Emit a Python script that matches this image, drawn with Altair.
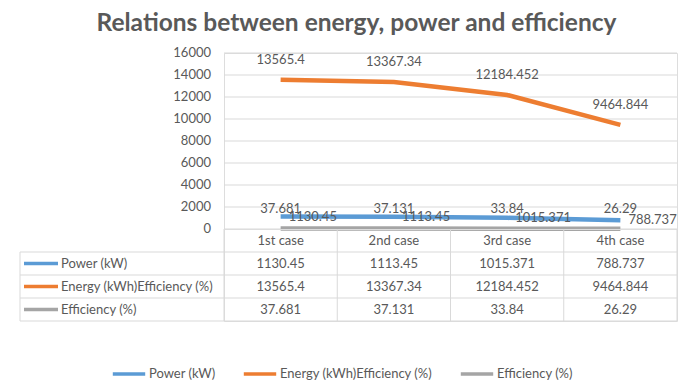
import altair as alt
import pandas as pd

# ---- data ----
categories = ["1st case", "2nd case", "3rd case", "4th case"]
series_names = ["Power (kW)", "Energy (kWh)Efficiency (%)", "Efficiency (%)"]
power = [1130.45, 1113.45, 1015.371, 788.737]
energy = [13565.4, 13367.34, 12184.452, 9464.844]
efficiency = [37.681, 37.131, 33.84, 26.29]
y_ticks = [0, 2000, 4000, 6000, 8000, 10000, 12000, 14000, 16000]
chart_title = "Relations between energy, power and efficiency"
x_title = "Tytuł osi"

colors = ["#5B9BD5", "#ED7D31", "#A5A5A5"]
TXT = "#595959"
GRID = "#D9D9D9"
FONT = "Lato"

W, H, TH = 453, 176, 92

rows = []
for name, vals in zip(series_names, [power, energy, efficiency]):
    for c, v in zip(categories, vals):
        rows.append({"series": name, "case": c, "value": v, "label": str(v)})
df = pd.DataFrame(rows)

color_enc = alt.Color(
    "series:N",
    scale=alt.Scale(domain=series_names, range=colors),
    legend=alt.Legend(
        title=None, orient="none", direction="horizontal",
        legendX=-113, legendY=303,
        symbolType="stroke", symbolStrokeWidth=3.5, symbolSize=1050,
        labelFontSize=13, labelColor=TXT, labelFont=FONT, labelOffset=2,
        columnPadding=20,
    ),
)

xband = alt.Scale(type="band", domain=categories, paddingInner=0, paddingOuter=0)
yscale = alt.Scale(domain=[0, 16000], nice=False)
x_top = alt.X("case:N", scale=xband, axis=None, bandPosition=0.5)
y_top = alt.Y("value:Q", scale=yscale, axis=None)

# gridlines and y tick labels drawn from the tick list through the y scale
grid_df = pd.DataFrame({"tick": y_ticks, "tick_label": [str(t) for t in y_ticks]})
y_tick = alt.Y("tick:Q", scale=yscale, axis=None)
gridlines = alt.Chart(grid_df).mark_rule(color=GRID, strokeWidth=1).encode(
    y=y_tick, x=alt.value(0), x2=alt.value(W),
)
txt_kw = dict(fontSize=13, color=TXT, font=FONT)
tick_labels = alt.Chart(grid_df).mark_text(align="right", baseline="middle", **txt_kw).encode(
    y=y_tick, x=alt.value(-13), text="tick_label:N",
)

base = alt.Chart(df)
lines = base.mark_line(strokeWidth=4.5).encode(
    x=x_top, y=y_top, color=color_enc
)
lab_energy = base.transform_filter(alt.datum.series == series_names[1]).mark_text(
    dy=-20, **txt_kw).encode(x=x_top, y=y_top, text="label:N")
lab_eff = base.transform_filter(alt.datum.series == series_names[2]).mark_text(
    dy=-20, **txt_kw).encode(x=x_top, y=y_top, text="label:N")
lab_power = base.transform_filter(alt.datum.series == series_names[0]).mark_text(
    align="left", dx=8, **txt_kw).encode(x=x_top, y=y_top, text="label:N")

top = alt.layer(gridlines, tick_labels, lines, lab_energy, lab_eff, lab_power).properties(
    width=W, height=H)

# ---- data table ----
row_order = ["hdr"] + series_names
cells = [{"row": "hdr", "case": c, "text": c} for c in categories]
cells += [{"row": r["series"], "case": r["case"], "text": r["label"]} for r in rows]
cells_df = pd.DataFrame(cells)
yband = alt.Scale(type="band", domain=row_order, paddingInner=0, paddingOuter=0)

cell_text = alt.Chart(cells_df).mark_text(**txt_kw).encode(
    x=alt.X("case:N", scale=xband, bandPosition=0.5,
            axis=alt.Axis(title=x_title, labels=False, ticks=False, domain=False,
                          grid=False, titleFontSize=13, titleFontWeight="normal",
                          titleColor=TXT, titleFont=FONT, titlePadding=6)),
    y=alt.Y("row:N", scale=yband, axis=None, bandPosition=0.5),
    text="text:N",
)

ser_df = pd.DataFrame({"series": series_names})
row_labels = alt.Chart(ser_df).mark_text(align="left", **txt_kw).encode(
    x=alt.value(-163),
    y=alt.Y("series:N", scale=yband, axis=None, bandPosition=0.5),
    text="series:N",
)
glyphs = alt.Chart(ser_df).mark_rule(strokeWidth=3.5).encode(
    x=alt.value(-200), x2=alt.value(-166),
    y=alt.Y("series:N", scale=yband, axis=None, bandPosition=0.5),
    color=color_enc,
)
cat_df = pd.DataFrame({"case": categories})
vlines = alt.Chart(cat_df).mark_rule(color=GRID, strokeWidth=1).encode(
    x=alt.X("case:N", scale=xband, axis=None, bandPosition=0),
    y=alt.value(0), y2=alt.value(TH),
)
right_border = alt.Chart(cat_df.head(1)).mark_rule(color=GRID, strokeWidth=1).encode(
    x=alt.value(W), y=alt.value(0), y2=alt.value(TH),
)
hlines = alt.Chart(ser_df).mark_rule(color=GRID, strokeWidth=1).encode(
    x=alt.value(-204), x2=alt.value(W),
    y=alt.Y("series:N", scale=yband, axis=None, bandPosition=0),
)
bottom_line = alt.Chart(ser_df.tail(1)).mark_rule(color=GRID, strokeWidth=1).encode(
    x=alt.value(-204), x2=alt.value(W),
    y=alt.Y("series:N", scale=yband, axis=None, bandPosition=1),
)
left_border = alt.Chart(ser_df.head(1)).mark_rule(color=GRID, strokeWidth=1).encode(
    x=alt.value(-204),
    y=alt.Y("series:N", scale=yband, axis=None, bandPosition=0),
    y2=alt.value(TH),
)

table = alt.layer(vlines, right_border, hlines, bottom_line, left_border,
                  glyphs, row_labels, cell_text).properties(width=W, height=TH)

chart = alt.vconcat(top, table, spacing=0, bounds="flush").properties(
    title=alt.TitleParams(chart_title, anchor="middle", fontSize=24.5, font=FONT,
                          fontWeight="bold", color=TXT, offset=10, dx=8),
    padding={"left": 11, "top": 3, "right": 5, "bottom": 5},
).configure_view(strokeWidth=0).configure(font=FONT)

chart.save("out.html", embed_options={"renderer": "svg", "actions": False})
